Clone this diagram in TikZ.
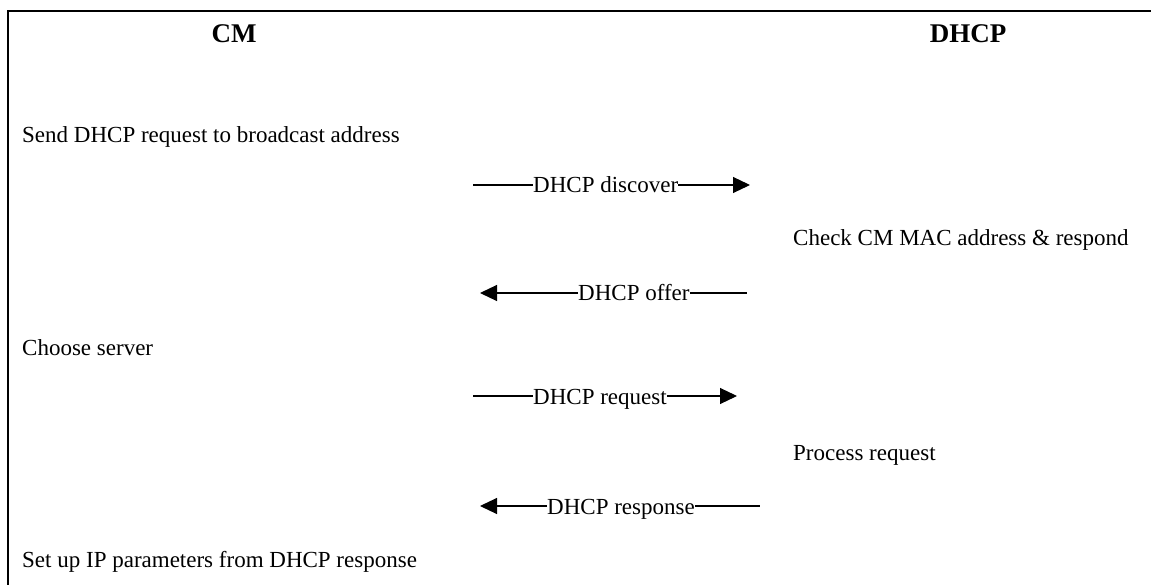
\documentclass[tikz,border=0pt]{standalone}
\usepackage{fontspec}
\setmainfont{Liberation Serif}
\usetikzlibrary{arrows.meta}

\begin{document}
\begin{tikzpicture}[x=1pt, y=-1pt,
            headtext/.style={anchor=base, inner sep=0pt, font=\bfseries\fontsize{27}{32}\selectfont},
            actiontext/.style={anchor=base west, inner sep=0pt, font=\fontsize{23}{28}\selectfont},
            msgtext/.style={anchor=base west, inner sep=0pt, font=\fontsize{23}{28}\selectfont},
            msgline/.style={line width=1.1pt},
            msgtip/.style={-{Triangle[length=17pt, width=16pt, sep=3pt]}}]
            \useasboundingbox (0,0) rectangle (1151,585);
            \coordinate (frameB) at (8,585);
            \coordinate (frameC) at (8,11);
            \coordinate (frameR) at (1151,11);
            \draw[line width=2.2pt] (frameB) -- (frameC) -- (frameR);
            \node[headtext] (cm) at (234,43) {CM};
            \node[headtext] (dhcp) at (968,43) {DHCP};
            \node[actiontext] (send) at (22,143) {Send DHCP request to broadcast address};
            \node[msgtext] (discover) at (533,193) {DHCP discover};
            \node[actiontext] (check) at (793,246) {Check CM MAC address \& respond};
            \node[msgtext] (offer) at (578,301) {DHCP offer};
            \node[actiontext] (choose) at (22,355) {Choose server};
            \node[msgtext] (request) at (533,404) {DHCP request};
            \node[actiontext] (process) at (793,460) {Process request};
            \node[msgtext] (response) at (547,514) {DHCP response};
            \node[actiontext] (setup) at (22,567) {Set up IP parameters from DHCP response};
            \coordinate (discoverL) at (473,185);
            \coordinate (discoverR) at (753,185);
            \coordinate (offerL) at (477,293);
            \coordinate (offerR) at (747,293);
            \coordinate (requestL) at (473,396);
            \coordinate (requestR) at (740,396);
            \coordinate (responseL) at (477,506);
            \coordinate (responseR) at (760,506);
            \draw[msgline] (discoverL) -- (discoverL -| discover.west);
            \draw[msgline, msgtip] (discoverR -| discover.east) -- (discoverR);
            \draw[msgline, msgtip] (offerL -| offer.west) -- (offerL);
            \draw[msgline] (offerR -| offer.east) -- (offerR);
            \draw[msgline] (requestL) -- (requestL -| request.west);
            \draw[msgline, msgtip] (requestR -| request.east) -- (requestR);
            \draw[msgline, msgtip] (responseL -| response.west) -- (responseL);
            \draw[msgline] (responseR -| response.east) -- (responseR);
        \end{tikzpicture}
\end{document}
